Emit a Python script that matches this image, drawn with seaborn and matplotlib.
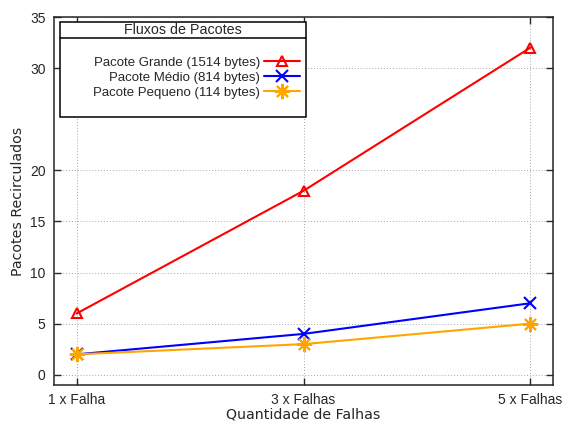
import matplotlib
matplotlib.use("Agg")
import pandas as pd
import matplotlib.pyplot as plt
import seaborn as sns
from matplotlib.patches import Rectangle

falhas = ["1 x Falha", "3 x Falhas", "5 x Falhas"]
grande = [6, 18, 32]
medio = [2, 4, 7]
pequeno = [2, 3, 5]
series = ["Pacote Grande (1514 bytes)", "Pacote Médio (814 bytes)", "Pacote Pequeno (114 bytes)"]
yticks = [0, 5, 10, 15, 20, 30, 35]

sns.set_style("ticks")
plt.rcParams["font.family"] = ["Liberation Sans", "DejaVu Sans"]
FS = 9.5
FS_TICK = 10
FS_LAB = 10.2

df = pd.DataFrame({
    "falha": falhas * 3,
    "valor": grande + medio + pequeno,
    "serie": [series[0]] * 3 + [series[1]] * 3 + [series[2]] * 3,
})

estilos = {
    series[0]: dict(color="#ff0000", marker="^", markersize=7),
    series[1]: dict(color="#0000ff", marker="x", markersize=9),
    series[2]: dict(color="#ffa500", marker=(8, 2, 0), markersize=11),
}

fig = plt.figure(figsize=(5.65, 4.23), dpi=100)
ax = fig.add_axes([0.0956, 0.0898, 0.8832, 0.87])

for s in series:
    st = estilos[s]
    sns.lineplot(data=df[df["serie"] == s], x="falha", y="valor", ax=ax,
                 color=st["color"], marker=st["marker"], markersize=st["markersize"],
                 markerfacecolor="none", markeredgecolor=st["color"],
                 markeredgewidth=1.5, linewidth=1.5, label=s, zorder=5)

ax.set_xlim(-0.1, 2.1)
ax.set_ylim(-1, 35)
ax.set_yticks(yticks)
ax.grid(True, color="#a8a8a8", linestyle=(0, (1, 2)), linewidth=0.7)
ax.tick_params(direction="in", top=True, right=True, length=5, width=1,
               labelsize=FS_TICK, pad=6)
for sp in ax.spines.values():
    sp.set_linewidth(1.1)
ax.set_xlabel("Quantidade de Falhas", fontsize=FS_LAB, labelpad=0,
              family="DejaVu Sans")
ax.set_ylabel("Pacotes Recirculados", fontsize=FS_LAB, labelpad=4,
              family="DejaVu Sans")

# caixa da legenda estilo gnuplot
x0, x1 = 0.012, 0.505
y0, y1 = 0.728, 0.986
ysep = 0.943
ax.add_patch(Rectangle((x0, y0), x1 - x0, y1 - y0, transform=ax.transAxes,
                       facecolor="white", edgecolor="black", linewidth=1.1, zorder=6))
ax.plot([x0, x1], [ysep, ysep], transform=ax.transAxes, color="black",
        linewidth=1.1, zorder=7)
ax.text((x0 + x1) / 2, (ysep + y1) / 2, "Fluxos de Pacotes", transform=ax.transAxes,
        ha="center", va="center", fontsize=10.3, zorder=8)

leg = ax.legend(loc="upper right", bbox_to_anchor=(0.493, 0.893), markerfirst=False,
                frameon=False, fontsize=FS, borderpad=0, borderaxespad=0,
                handlelength=2.7, handletextpad=0.35, labelspacing=0.22)
leg.set_zorder(9)

fig.savefig("out.png", dpi=100)
